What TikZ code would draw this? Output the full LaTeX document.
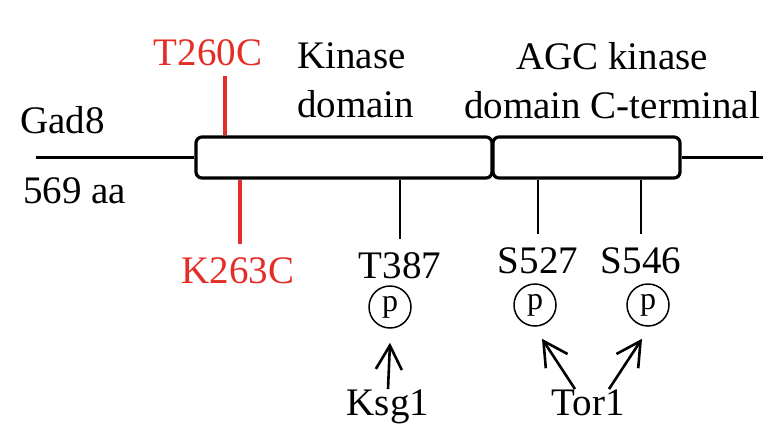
\documentclass[tikz,border=0pt]{standalone}
\usepackage{fontspec}
\setmainfont{Liberation Serif}
\usetikzlibrary{arrows.meta,positioning}
\definecolor{mutred}{RGB}{228,45,38}

% name / line x / circle x / baseline / circle y
\newcommand{\psites}{
        T387/400/390/278/307, S527/538/535/273/305, S546/641/648/273/305
    }

\begin{document}
\begin{tikzpicture}[x=1pt,y=-1pt,
        every node/.style={font=\fontsize{39}{49}\selectfont, inner sep=0pt},
        domainbox/.style={draw, line width=3.2pt, rounded corners=6pt, minimum height=41pt},
        phos/.style={draw, circle, line width=1.5pt, minimum size=42pt, font=\fontsize{32}{32}\selectfont},
        site/.style={line width=2.4pt},
        mut/.style={mutred, line width=3.4pt},
        kin/.style={-{Straight Barb[length=24pt,width=26pt]}, line width=2.6pt}]
    \useasboundingbox (0,0) rectangle (784,434);

    % Protein backbone and domains
    \node[domainbox, minimum width=296pt] (kinase) at (344,157.5) {};
    \node[domainbox, minimum width=187pt] (agc) at (586.5,157.5) {};
    \coordinate (nterm) at (36,157.5);
    \coordinate (cterm) at (763,157.5);
    \draw[line width=3.4pt] (nterm) -- (kinase.west);
    \draw[line width=3.4pt] (agc.east) -- (cterm);

    % Labels
    \node[anchor=base west] (gad) at (20,133) {Gad8};
    \node[anchor=base west] (len) at (23,203) {569 aa};
    \node[anchor=north west, align=left] (kinlabel) at (297,42) {Kinase\\domain};
    \node[anchor=north, align=center] (agclabel) at (612,42) {AGC kinase\\domain C-terminal};

    % Mutations
    \node[anchor=base, text=mutred] (t260c) at (208,65) {T260C};
    \node[anchor=base, text=mutred] (k263c) at (238,283) {K263C};
    \coordinate (t260end) at ([xshift=17pt,yshift=-10pt]t260c.south);
    \draw[mut] (t260end) -- (t260end |- kinase.north);
    \draw[mut] ([xshift=2pt]k263c.north |- kinase.south) -- ([xshift=2pt,yshift=13pt]k263c.north);

    % Phosphorylation sites
    \foreach \name/\x/\px/\by/\py in \psites{
        \node[anchor=base] (\name) at (\x,\by) {\name};
        \node[phos] (p\name) at (\px,\py) {p};
        \draw[site] (\name |- kinase.south) -- ([yshift=13pt]\name.north);
    }

    % Kinases
    \node[anchor=base] (ksg) at (388,415) {Ksg1};
    \node[anchor=base] (tor) at (588,415) {Tor1};
    \draw[kin] (ksg.north) -- ([yshift=-14pt]pT387.south);
    \draw[kin] ([xshift=-13pt]tor.north) -- ([xshift=7pt,yshift=-12pt]pS527.south);
    \draw[kin] ([xshift=21pt]tor.north) -- ([xshift=-6pt,yshift=-12pt]pS546.south);
\end{tikzpicture}
\end{document}
